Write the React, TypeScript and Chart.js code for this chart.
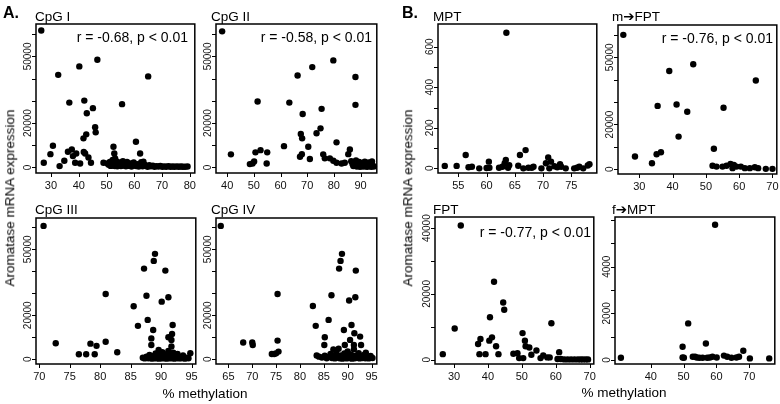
import React, { useEffect, useRef } from "react";
import { Chart, registerables } from "chart.js";
Chart.register(...registerables);

const FONT = '"Liberation Sans", Arial, Helvetica, sans-serif';

// ---------------- DATA: [% methylation, aromatase mRNA expression] ----------------
const cpgI: number[][] = [
  [26.5, 61700], [27.4, 2100], [29.8, 6000], [30.7, 9800], [32.6, 41700], [33.1, 600], [34.8, 3000],
  [36.6, 29200], [36.1, 7100], [37.5, 8100], [37.9, 5100], [38.7, 2100], [39.1, 6300], [40.2, 45500],
  [40.5, 1800], [42.0, 30100], [41.7, 13100], [42.3, 6300], [41.8, 7000], [42.7, 14900], [42.9, 24400],
  [43.5, 4500], [44.4, 2100], [45.1, 26700], [45.9, 18100], [46.1, 15800], [46.7, 48500], [48.9, 2100],
  [50.3, 1800], [52.5, 9300], [52.8, 6300], [53.1, 4100], [55.6, 28500], [60.6, 11600], [62.1, 6300],
  [63.3, 2600], [65.0, 41000],
  [50.8, 1200], [51.2, 2500], [51.5, 700], [51.8, 1500], [52.2, 3400], [52.4, 900], [52.7, 2000],
  [53.0, 600], [53.3, 1300], [53.6, 2700], [53.9, 500], [54.2, 1600], [54.5, 900], [54.8, 2200],
  [55.2, 600], [55.5, 1400], [55.9, 2800], [56.3, 800], [56.6, 1900], [57.0, 500], [57.4, 2500],
  [57.8, 1200], [58.2, 700], [58.6, 1800], [59.0, 400], [59.4, 1400], [59.8, 2200], [60.2, 900],
  [60.7, 600], [61.1, 1500], [61.6, 400], [62.0, 1100], [62.5, 2400], [63.0, 500], [63.6, 1300],
  [64.2, 800], [64.8, 300], [65.4, 1000], [66.0, 500], [66.7, 800], [67.3, 300], [68.0, 600],
  [68.7, 400], [69.4, 700], [70.1, 300], [70.8, 500], [71.5, 300], [72.3, 600], [73.0, 300],
  [73.8, 400], [74.5, 300], [75.3, 500], [76.0, 300], [76.8, 400], [77.5, 300], [78.3, 300], [79.2, 400],
];

const cpgII: number[][] = [
  [38.1, 61300], [41.4, 5900], [48.5, 1500], [49.5, 1800], [50.1, 2700], [50.6, 6800], [51.4, 29700],
  [52.5, 7800], [54.8, 1800], [55.0, 6800], [61.3, 9600], [63.3, 29200], [66.4, 41400], [67.3, 4800],
  [67.6, 15100], [68.1, 13100], [68.0, 6000], [68.3, 24100], [70.4, 9300], [71.0, 3800], [71.9, 45200],
  [73.5, 15400], [75.0, 17600], [75.4, 26400], [76.0, 5900], [76.6, 4100], [78.5, 4100], [79.8, 3000],
  [79.8, 48200], [81.0, 2100], [81.0, 11300], [82.9, 1800], [84.1, 2100], [85.4, 6000], [86.0, 8100],
  [88.1, 28200], [88.1, 40700],
  [86.5, 2800], [87.0, 1500], [87.3, 600], [87.6, 2200], [88.0, 900], [88.3, 3200], [88.6, 400],
  [88.9, 1700], [89.2, 800], [89.5, 2500], [89.8, 300], [90.1, 1300], [90.4, 600], [90.7, 2000],
  [91.0, 400], [91.3, 1100], [91.6, 2600], [91.9, 500], [92.2, 1500], [92.5, 300], [92.8, 900],
  [93.1, 2300], [93.4, 600], [93.7, 1400], [94.0, 300], [94.3, 2700], [94.6, 800], [95.0, 400],
];

const cpgIII: number[][] = [
  [70.7, 60600], [72.7, 7300], [76.5, 2300], [77.7, 2300], [78.4, 7100], [79.1, 2300], [79.4, 6100],
  [80.9, 29700], [80.9, 8000], [82.8, 3200], [85.5, 24100], [86.2, 15200], [87.2, 41200], [87.6, 28900],
  [87.8, 17900], [88.4, 9500], [88.4, 6500], [88.7, 13300], [88.8, 44700], [89.0, 47900], [90.1, 26200],
  [90.7, 40300], [91.2, 28200], [91.2, 10000], [91.7, 8800], [91.8, 11500], [91.9, 15600], [91.7, 5800],
  [87.0, 700], [87.3, 400], [87.6, 1200], [87.9, 500], [88.1, 2000], [88.3, 800], [88.5, 300],
  [88.7, 1500], [88.9, 600], [89.1, 2600], [89.2, 400], [89.4, 1000], [89.6, 4200], [89.7, 300],
  [89.9, 1800], [90.0, 700], [90.2, 3200], [90.3, 400], [90.5, 1200], [90.6, 2300], [90.8, 600],
  [90.9, 300], [91.0, 1600], [91.2, 3800], [91.3, 800], [91.5, 400], [91.6, 2100], [91.8, 1100],
  [91.9, 600], [92.0, 3000], [92.2, 300], [92.3, 1400], [92.5, 700], [92.7, 2400], [92.9, 400],
  [93.1, 1000], [93.3, 500], [93.6, 1800], [93.9, 300], [94.2, 700], [94.5, 500], [94.8, 2800],
];

const cpgIV: number[][] = [
  [63.4, 60600], [68.1, 7600], [70.0, 7600], [70.1, 6500], [74.1, 2400], [74.6, 2400], [75.0, 2700],
  [75.3, 29700], [75.3, 8500], [75.5, 3500], [82.7, 24200], [83.3, 15200], [83.5, 1700], [85.2, 10000],
  [85.1, 6500], [86.0, 17900], [86.6, 29100], [88.2, 41200], [88.5, 44700], [88.8, 47900], [89.2, 13300],
  [89.4, 6500], [90.3, 26700], [90.8, 15600], [90.5, 8800], [91.4, 11800], [91.6, 28200], [91.7, 40300],
  [91.3, 6500], [92.6, 10300], [92.8, 6500], [93.8, 3000], [87.0, 4500],
  [84.0, 1200], [84.6, 800], [85.2, 1600], [85.6, 500], [86.0, 1100], [86.4, 2400], [86.7, 600],
  [87.0, 1500], [87.3, 400], [87.6, 3300], [87.9, 900], [88.1, 4800], [88.3, 500], [88.6, 1800],
  [88.9, 300], [89.1, 1200], [89.3, 2600], [89.6, 700], [89.8, 400], [90.0, 3600], [90.2, 1500],
  [90.5, 600], [90.7, 2200], [90.9, 300], [91.1, 1000], [91.3, 4600], [91.5, 500], [91.8, 1700],
  [92.0, 800], [92.3, 2800], [92.5, 400], [92.8, 1300], [93.1, 600], [93.4, 2000], [93.7, 500],
  [94.0, 1000], [94.4, 400], [94.8, 1500], [95.2, 600],
];

const mpt: number[][] = [
  [52.6, 12], [54.7, 12], [56.3, 66], [56.8, 5], [57.4, 8], [58.7, 0], [60.0, 2], [60.4, 33], [60.5, 3],
  [62.2, 3], [62.8, 8], [63.2, 25], [63.4, 41], [63.5, 669], [63.8, 3], [64.0, 15], [65.6, 13], [65.9, 66],
  [66.5, 0], [66.9, 90], [67.4, 3], [68.0, 3], [68.3, 8], [69.7, 0], [70.5, 25], [70.9, 54], [71.1, 0],
  [71.4, 33], [72.0, 10], [72.5, 5], [73.0, 21], [73.2, 8], [74.0, 0], [75.5, 0], [76.0, 3], [76.4, 8],
  [77.1, 0], [77.9, 14], [78.2, 20],
];

const mToFpt: number[][] = [
  [25.2, 60000], [28.7, 5700], [33.8, 2700], [35.2, 6700], [35.5, 28300], [36.5, 7600], [39.0, 43900],
  [41.2, 28900], [41.8, 14600], [44.4, 25700], [46.2, 46900], [52.4, 9200], [52.0, 1600], [53.2, 1200],
  [55.0, 1200], [55.3, 27500], [56.2, 1600], [57.4, 2400], [58.0, 500], [58.4, 1900], [59.2, 1200],
  [60.5, 1200], [61.7, 500], [63.2, 500], [64.7, 900], [65.0, 39600], [65.7, 500], [68.0, 200], [70.0, 200],
];

const fpt: number[][] = [
  [26.7, 1700], [30.2, 9500], [32.0, 40800], [37.1, 4800], [37.5, 1700], [37.8, 6300], [39.3, 1700],
  [40.4, 5800], [40.6, 12900], [41.2, 6800], [41.8, 23700], [42.4, 4100], [43.1, 1700], [44.5, 17400],
  [44.8, 15200], [47.5, 1800], [48.7, 2000], [49.2, 500], [50.2, 8100], [50.4, 500], [50.9, 5800],
  [51.1, 4100], [52.2, 3700], [52.8, 1500], [54.3, 2800], [55.5, 500], [56.3, 1300], [57.5, 700],
  [58.2, 700], [58.7, 11100], [61.0, 2300], [60.5, 200],
  [61.5, 200], [62.5, 100], [63.5, 100], [64.5, 100], [65.5, 100], [66.5, 100], [67.3, 100],
  [68.0, 100], [68.8, 100], [69.5, 100],
];

const fToMpt: number[][] = [
  [30.9, 100], [49.7, 570], [49.7, 110], [50.1, 100], [51.4, 1570], [52.8, 140], [53.5, 140], [54.0, 110],
  [54.8, 100], [55.8, 100], [56.8, 710], [57.2, 100], [58.0, 110], [58.8, 140], [59.6, 5800], [60.1, 110],
  [62.3, 190], [63.3, 140], [64.6, 100], [66.1, 110], [66.9, 140], [68.2, 400], [70.2, 70], [76.1, 70],
];

// ---------------- TICKS / LABELS ----------------
const xTicksCpgI = [30, 40, 50, 60, 70, 80];
const xTicksCpgII = [40, 50, 60, 70, 80, 90];
const xTicksCpgIII = [70, 75, 80, 85, 90, 95];
const xTicksCpgIV = [65, 70, 75, 80, 85, 90, 95];
const xTicksMpt = [55, 60, 65, 70, 75];
const xTicksMFpt = [30, 40, 50, 60, 70];
const xTicksFpt = [30, 40, 50, 60, 70];
const xTicksFMpt = [40, 50, 60, 70];

const yTicks60k = [0, 10000, 20000, 30000, 40000, 50000, 60000];
const yLabels60k = [0, 20000, 50000];
const yTicksMpt = [0, 100, 200, 300, 400, 500, 600];
const yLabelsMpt = [0, 200, 400, 600];
const yTicks40k = [0, 10000, 20000, 30000, 40000];
const yLabels40k = [0, 20000, 40000];
const yTicks6k = [0, 1000, 2000, 3000, 4000, 5000, 6000];
const yLabels6k = [0, 2000, 4000];

const panelTitles = ["CpG I", "CpG II", "CpG III", "CpG IV", "MPT", "m\u2794FPT", "FPT", "f\u2794MPT"];
const statTexts = ["r = -0.68, p < 0.01", "r = -0.58, p < 0.01", "r = -0.76, p < 0.01", "r = -0.77, p < 0.01"];

// ---------------- LAYOUT ----------------
type Panel = {
  title: string;
  stat?: string;
  pts: number[][];
  box: [number, number, number, number];
  x: [number, number];
  y: [number, number];
  xTicks: number[];
  yTicks: number[];
  yLabels: number[];
  titlePos: [number, number];
  statPos?: [number, number];
};

const PL = 34, PT = 24, PR = 3, PB = 24;

const panels: Panel[] = [
  { title: panelTitles[0], stat: statTexts[0], pts: cpgI, box: [36, 24, 195, 173], x: [24.6, 81.8], y: [-2500, 64600],
    xTicks: xTicksCpgI, yTicks: yTicks60k, yLabels: yLabels60k, titlePos: [35, 21], statPos: [188, 38] },
  { title: panelTitles[1], stat: statTexts[1], pts: cpgII, box: [216, 24, 377, 173], x: [35.8, 96.1], y: [-2500, 64600],
    xTicks: xTicksCpgII, yTicks: yTicks60k, yLabels: yLabels60k, titlePos: [211, 21], statPos: [372, 38] },
  { title: panelTitles[2], pts: cpgIII, box: [36, 218, 196, 364], x: [69.46, 95.7], y: [-2140, 64200],
    xTicks: xTicksCpgIII, yTicks: yTicks60k, yLabels: yLabels60k, titlePos: [35, 214] },
  { title: panelTitles[3], pts: cpgIV, box: [216, 218, 377, 364], x: [62.4, 96.1], y: [-2140, 64200],
    xTicks: xTicksCpgIV, yTicks: yTicks60k, yLabels: yLabels60k, titlePos: [211, 214] },
  { title: panelTitles[4], pts: mpt, box: [438, 24, 597, 173], x: [51.4, 79.5], y: [-23, 712],
    xTicks: xTicksMpt, yTicks: yTicksMpt, yLabels: yLabelsMpt, titlePos: [433, 21] },
  { title: panelTitles[5], stat: statTexts[2], pts: mToFpt, box: [618, 25, 777, 174], x: [23.6, 71.3], y: [-2100, 64400],
    xTicks: xTicksMFpt, yTicks: yTicks60k, yLabels: yLabels60k, titlePos: [612, 21], statPos: [773, 39] },
  { title: panelTitles[6], stat: statTexts[3], pts: fpt, box: [435, 217, 594, 364], x: [24.4, 71.2], y: [-1300, 43400],
    xTicks: xTicksFpt, yTicks: yTicks40k, yLabels: yLabels40k, titlePos: [433, 213.5], statPos: [591, 233] },
  { title: panelTitles[7], pts: fToMpt, box: [615, 217, 775, 364], x: [29.1, 77.8], y: [-170, 6130],
    xTicks: xTicksFMpt, yTicks: yTicks6k, yLabels: yLabels6k, titlePos: [612, 213.5] },
];

function PanelChart({ p }: { p: Panel }) {
  const ref = useRef<HTMLCanvasElement | null>(null);
  const [l, t, r, b] = p.box;
  const cLeft = l - PL;
  const cTop = t - PT;
  const w = r - l + PL + PR;
  const h = b - t + PT + PB;

  useEffect(() => {
    if (!ref.current) return;
    const plugin = {
      id: "rAxes",
      afterDraw(chart: any) {
        const { ctx, chartArea: a, scales } = chart;
        const xs = scales.x;
        const ys = scales.y;
        ctx.save();
        ctx.strokeStyle = "#000";
        ctx.lineWidth = 1.5;
        ctx.strokeRect(a.left, a.top, a.right - a.left, a.bottom - a.top);
        ctx.lineWidth = 1;
        ctx.beginPath();
        p.xTicks.forEach((v) => {
          const x = Math.round(xs.getPixelForValue(v)) + 0.5;
          ctx.moveTo(x, a.bottom);
          ctx.lineTo(x, a.bottom + 4);
        });
        p.yTicks.forEach((v) => {
          const y = Math.round(ys.getPixelForValue(v)) + 0.5;
          ctx.moveTo(a.left, y);
          ctx.lineTo(a.left - 4, y);
        });
        ctx.stroke();
        ctx.fillStyle = "#111";
        ctx.font = `11px ${FONT}`;
        ctx.textAlign = "center";
        ctx.textBaseline = "middle";
        p.xTicks.forEach((v) => {
          ctx.fillText(String(v), xs.getPixelForValue(v), a.bottom + 12.5);
        });
        ctx.font = `10px ${FONT}`;
        p.yLabels.forEach((v) => {
          ctx.save();
          ctx.translate(a.left - 5, ys.getPixelForValue(v));
          ctx.rotate(-Math.PI / 2);
          ctx.textAlign = "center";
          ctx.textBaseline = "alphabetic";
          ctx.fillText(String(v), 0, 0);
          ctx.restore();
        });
        ctx.fillStyle = "#000";
        ctx.font = `13.5px ${FONT}, "DejaVu Sans"`;
        ctx.textAlign = "left";
        ctx.textBaseline = "alphabetic";
        ctx.fillText(p.title, p.titlePos[0] - cLeft, p.titlePos[1] - cTop);
        if (p.stat && p.statPos) {
          ctx.font = `14px ${FONT}`;
          ctx.textAlign = "right";
          ctx.textBaseline = "middle";
          ctx.fillText(p.stat, p.statPos[0] - cLeft, p.statPos[1] - cTop);
        }
        ctx.restore();
      },
    };
    const chart = new Chart(ref.current, {
      type: "scatter",
      data: {
        datasets: [
          {
            data: p.pts.map(([x, y]) => ({ x, y })),
            pointRadius: 3.2,
            pointHoverRadius: 3.2,
            backgroundColor: "#000",
            borderColor: "#000",
            borderWidth: 0,
            clip: false as any,
          },
        ],
      },
      options: {
        animation: false,
        responsive: false,
        devicePixelRatio: 1,
        events: [],
        layout: { padding: { left: PL, top: PT, right: PR, bottom: PB } },
        scales: {
          x: { type: "linear", min: p.x[0], max: p.x[1], display: false },
          y: { type: "linear", min: p.y[0], max: p.y[1], display: false },
        },
        plugins: { legend: { display: false }, tooltip: { enabled: false } },
      },
      plugins: [plugin],
    });
    return () => chart.destroy();
  }, []);

  return (
    <canvas
      ref={ref}
      width={w}
      height={h}
      style={{ position: "absolute", left: cLeft, top: cTop, width: w, height: h, display: "block" }}
    />
  );
}

const textBase: React.CSSProperties = {
  position: "absolute",
  fontFamily: FONT,
  color: "#000",
  whiteSpace: "nowrap",
  lineHeight: 1,
};

export default function App() {
  return (
    <div style={{ position: "fixed", left: 0, top: 0, width: 780, height: 404, background: "#fff", overflow: "hidden" }}>
      {panels.map((p, i) => (
        <PanelChart key={i} p={p} />
      ))}
      <div style={{ ...textBase, left: 3, top: 5, fontSize: 16, fontWeight: "bold" }}>A.</div>
      <div style={{ ...textBase, left: 402, top: 5, fontSize: 16, fontWeight: "bold" }}>B.</div>
      <div style={{ ...textBase, left: 10, top: 198, fontSize: 13.5, transform: "translate(-50%, -50%) rotate(-90deg)" }}>
        Aromatase mRNA expression
      </div>
      <div style={{ ...textBase, left: 408, top: 198, fontSize: 13.5, transform: "translate(-50%, -50%) rotate(-90deg)" }}>
        Aromatase mRNA expression
      </div>
      <div style={{ ...textBase, left: 205, top: 394, fontSize: 13.5, transform: "translate(-50%, -50%)" }}>% methylation</div>
      <div style={{ ...textBase, left: 624, top: 393, fontSize: 13.5, transform: "translate(-50%, -50%)" }}>% methylation</div>
    </div>
  );
}
